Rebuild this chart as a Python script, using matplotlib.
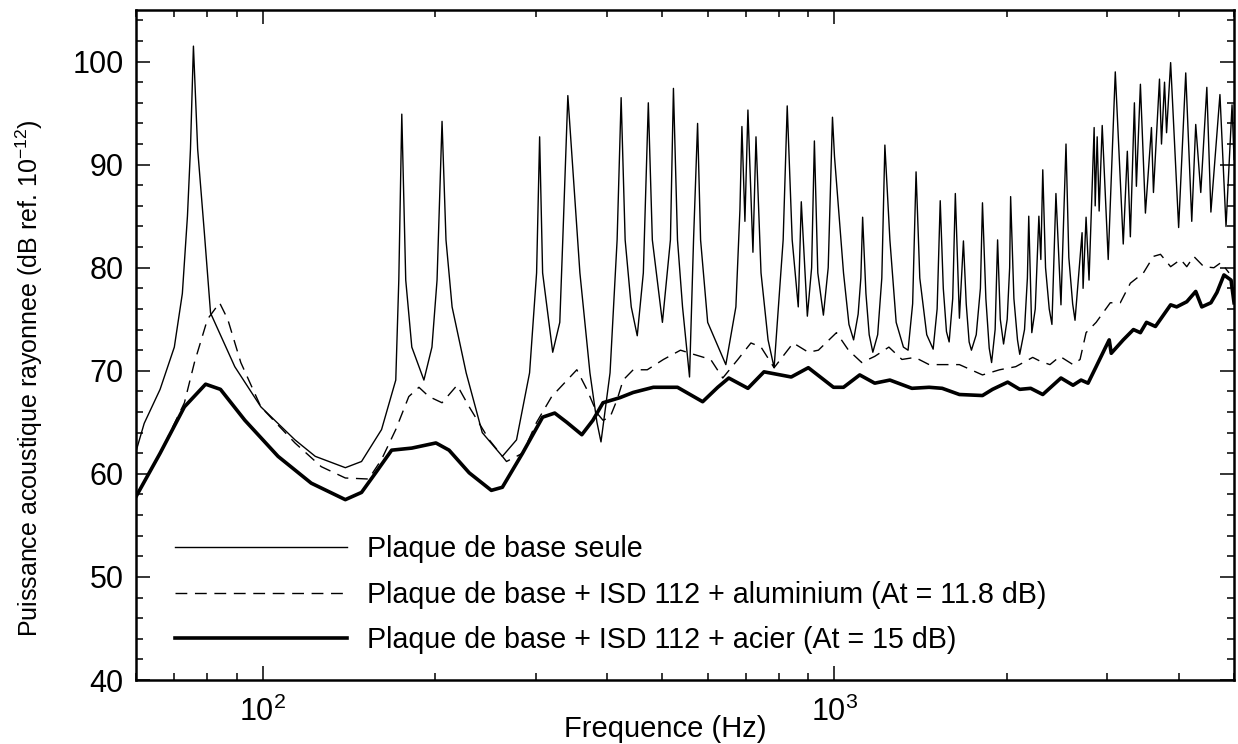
import numpy as np
import matplotlib
matplotlib.use("Agg")
import matplotlib.pyplot as plt
from matplotlib.ticker import MultipleLocator, NullFormatter

# Plaque de base seule (thin line, resonance peaks)
base_f = [60, 62.0, 66.1, 70.0, 72.3, 73.8, 74.7, 75.6, 76.9, 79.0, 81.0, 89.3,
          99.2, 113.8, 123.5, 139.4, 148.8, 161.3, 170.8, 172.9, 175.0, 177.8,
          182.2, 191.3, 197.6, 201.7, 205.8, 209.1, 214.3, 226.8, 242.0, 262.4,
          277.8, 292.8, 301.2, 304.9, 308.6, 321.4, 330.7, 334.7, 341.6, 358.6,
          373.4, 384.1, 390.4, 404.9, 416.6, 423.4, 430.3, 441.0, 451.8, 463.0,
          472.4, 480.1, 500.0, 516.4, 522.7, 531.3, 542.2, 557.7, 566.8, 576.1,
          583.1, 600.0, 645.5, 672.2, 683.2, 688.7, 697.1, 705.6, 720.0, 728.9,
          743.8, 765.2, 784.1, 813.2, 826.6, 843.3, 864.2, 874.8, 896.4, 912,
          922.2, 935, 956.3, 975, 991.9, 1000, 1037, 1060, 1080, 1100, 1112,
          1120, 1135, 1150, 1167, 1190, 1210, 1225, 1250, 1282, 1320, 1345,
          1370, 1389, 1410, 1450, 1488, 1512, 1531, 1550, 1570, 1587, 1610,
          1627, 1654, 1681, 1700, 1720, 1736, 1770, 1800, 1815, 1840, 1865,
          1883, 1910, 1929, 1950, 1976, 2005, 2025, 2033, 2060, 2090, 2109,
          2150, 2175, 2187, 2214, 2245, 2278, 2296, 2314, 2340, 2375, 2401,
          2440, 2490, 2541, 2570, 2610, 2635, 2711, 2722, 2755,
          2788, 2846, 2858, 2881, 2904, 2940, 3012, 3099, 3200, 3253, 3293, 3347,
          3374, 3429, 3499, 3585, 3614, 3703, 3733, 3779, 3810, 3873, 4000, 4116,
          4217, 4285, 4373, 4481, 4555, 4724, 4841, 4960, 5000]
base_db = [62.2, 64.9, 68.2, 72.3, 77.5, 85.0, 91.5, 101.5, 91.5, 83.4, 75.6, 70.4,
           66.5, 63.3, 61.7, 60.6, 61.2, 64.3, 69.1, 78.8, 94.9, 78.8,
           72.3, 69.1, 72.3, 78.8, 94.2, 82.7, 76.2, 69.8, 64.0, 61.7,
           63.3, 69.8, 79.5, 92.7, 79.5, 71.8, 74.7, 82.7, 96.7, 79.5,
           69.8, 65.0, 63.1, 69.8, 82.7, 96.5, 82.7, 76.2, 73.4, 79.5,
           96.0, 82.7, 74.7, 82.7, 97.4, 82.7, 76.2, 69.4, 82.7, 94.0,
           82.7, 74.7, 70.6, 76.2, 85.6, 93.7, 84.5, 95.3, 81.5, 92.7,
           79.5, 73.0, 70.3, 82.7, 95.7, 82.7, 76.2, 86.4, 75.3, 80.0,
           92.3, 79.5, 75.4, 80.0, 94.6, 90.8, 79.5, 74.5, 73.0, 75.5, 79.0,
           84.9, 77.5, 73.5, 71.8, 73.5, 79.0, 91.9, 82.7, 74.7, 72.3, 72.0,
           76.5, 89.3, 79.0, 73.5, 72.1, 76.0, 86.5, 78.0, 73.8, 72.8, 77.0,
           87.2, 75.1, 82.6, 76.5, 72.8, 72.0, 73.5, 78.0, 86.3, 77.0, 72.2,
           70.8, 74.0, 82.7, 75.0, 72.6, 75.0, 80.0, 86.9, 77.0, 73.0, 71.6,
           74.0, 79.0, 85.0, 73.7, 76.0, 85.0, 80.8, 89.5, 80.0, 76.0, 74.5,
           87.2, 76.4, 92.0, 81.0, 76.5, 74.9, 83.4, 78.0, 84.9,
           78.8, 93.6, 86.0, 92.7, 85.5, 93.8, 80.8, 99.0, 82.3, 91.3, 83.0, 96.0,
           87.9, 97.8, 85.3, 93.6, 87.3, 98.3, 92.0, 98.0, 93.1, 99.9, 83.9, 98.9,
           84.5, 93.9, 87.3, 97.5, 85.4, 96.8, 84.0, 95.8, 90.5]

# Plaque de base + ISD 112 + aluminium (dashed)
alu_f = [60, 66.1, 72.9, 75.9, 80.0, 84.0, 86.8, 91.5, 99.2, 113.8, 126.5, 139.4,
         153.1, 161.3, 170.8, 180.0, 187.5, 195.2, 205.8, 218.7, 229.6, 248.9,
         266.8, 284.6, 301.2, 320.1, 354.2, 368.8, 384.1, 393.6, 404.9, 416.6,
         426.8, 444.5, 470.4, 502.1, 537.8, 566.8, 607.3, 637.6, 677.6, 714.2,
         743.8, 784.1, 846.9, 900.0, 937.2, 1008, 1058, 1116, 1176, 1245, 1312,
         1383, 1464, 1543, 1654, 1815, 1945, 2075, 2222, 2296, 2382, 2480, 2614,
         2689, 2755, 2869, 3037, 3162, 3293, 3471, 3614, 3718, 3873, 4033, 4133,
         4251, 4427, 4610, 4744, 4900]
alu_db = [57.8, 62.0, 66.9, 70.8, 75.0, 76.6, 75.0, 70.8, 66.5, 63.0, 60.7, 59.6,
          59.5, 61.4, 64.3, 67.5, 68.4, 67.5, 66.9, 68.6, 66.5, 63.3,
          61.2, 62.0, 65.0, 67.5, 70.1, 68.2, 65.9, 65.2, 65.5, 67.2,
          69.1, 70.1, 70.1, 71.1, 72.0, 71.6, 71.1, 69.3, 71.1, 72.7,
          72.3, 70.3, 72.7, 71.8, 72.0, 73.7, 72.0, 70.8, 71.4, 72.3, 71.1,
          71.3, 70.6, 70.6, 70.6, 69.6, 70.1, 70.4, 71.3, 70.9, 70.6, 71.4, 70.6,
          71.1, 73.7, 74.7, 76.6, 76.6, 78.5, 79.5, 81.1, 81.3, 80.1, 80.8, 80.1,
          81.1, 80.1, 80.0, 80.5, 79.5]

# Plaque de base + ISD 112 + acier (thick)
steel_f = [60, 66.1, 72.9, 79.4, 84.3, 93.0, 106.3, 121.5, 139.4, 148.8, 157.5,
           168.0, 182.2, 200.8, 211.7, 229.6, 251.0, 262.4, 284.6, 308.6, 324.0,
           340.2, 361.4, 377.9, 393.6, 421.7, 444.5, 482.1, 531.3, 588.0, 624.8,
           653.2, 705.6, 752.8, 840.1, 900.0, 995.9, 1037, 1107, 1176, 1250, 1366,
           1464, 1543, 1654, 1815, 1890, 2009, 2109, 2204, 2314, 2490, 2614, 2700,
           2777, 2869, 2975, 3024, 3049, 3200, 3334, 3429, 3514, 3643, 3873, 3968,
           4133, 4285, 4391, 4555, 4667, 4801, 4940, 5000]
steel_db = [57.8, 62.0, 66.5, 68.7, 68.2, 65.2, 61.7, 59.1, 57.5, 58.2, 60.1,
            62.3, 62.5, 63.0, 62.3, 60.1, 58.4, 58.7, 62.0, 65.5, 65.9,
            65.0, 63.8, 65.2, 66.9, 67.4, 67.9, 68.4, 68.4, 67.0, 68.4,
            69.3, 68.3, 69.9, 69.4, 70.3, 68.4, 68.4, 69.6, 68.8, 69.1, 68.3,
            68.4, 68.3, 67.7, 67.6, 68.2, 68.9, 68.2, 68.3, 67.7, 69.3, 68.6, 69.1,
            68.8, 70.4, 72.2, 73.0, 71.7, 73.0, 74.0, 73.7, 74.7, 74.3, 76.4, 76.2,
            76.7, 77.7, 76.2, 76.6, 77.6, 79.3, 78.8, 76.6]

labels = ["Plaque de base seule",
          "Plaque de base + ISD 112 + aluminium (At = 11.8 dB)",
          "Plaque de base + ISD 112 + acier (At = 15 dB)"]

plt.rcParams['font.family'] = ['Liberation Sans', 'DejaVu Sans']

fig = plt.figure(figsize=(12.38, 7.44), dpi=100)
ax = fig.add_axes([0.1099, 0.0860, 0.8869, 0.9005])

ax.plot(base_f, base_db, color='black', lw=1.0, label=labels[0])
ax.plot(alu_f, alu_db, color='black', lw=1.0, dashes=(8.5, 5.5), label=labels[1])
ax.plot(steel_f, steel_db, color='black', lw=2.6, solid_joinstyle='round', label=labels[2])

ax.set_xscale('log')
ax.set_xlim(60, 5000)
ax.set_ylim(40, 105)
ax.yaxis.set_major_locator(MultipleLocator(10))
ax.yaxis.set_minor_locator(MultipleLocator(2))
ax.xaxis.set_minor_formatter(NullFormatter())

ax.tick_params(which='both', direction='in', top=True, right=True, width=1.1)
ax.tick_params(which='major', length=10, labelsize=22)
ax.tick_params(which='minor', length=5)
ax.tick_params(axis='x', which='major', pad=12)
ax.tick_params(axis='y', which='major', pad=9)
for sp in ax.spines.values():
    sp.set_linewidth(1.8)

ax.set_xlabel('Frequence (Hz)', fontsize=21)
ax.xaxis.set_label_coords(0.482, -0.052)
ax.set_ylabel(r'Puissance acoustique rayonnee (dB ref. 10$^{\mathdefault{-12}}$)', fontsize=18)
ax.yaxis.set_label_coords(-0.083, 0.45)

ax.legend(loc='upper left', bbox_to_anchor=(0.0355, 0.2165), frameon=False,
          borderpad=0, borderaxespad=0, handlelength=6.0, handletextpad=0.7,
          labelspacing=0.62, fontsize=20.6)

fig.savefig('out.png', dpi=100)
